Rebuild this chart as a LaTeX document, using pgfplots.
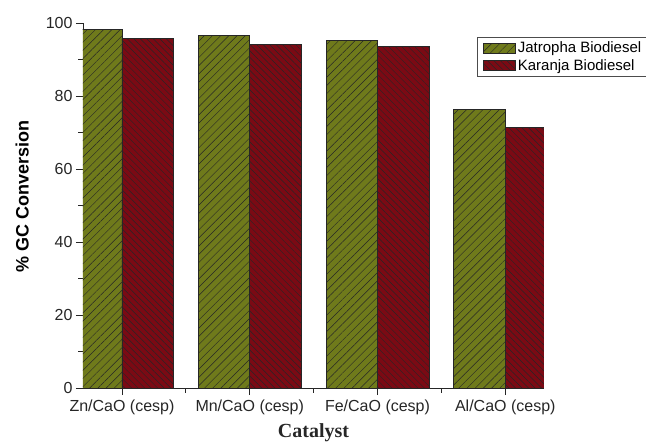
\documentclass[border=0pt]{standalone}
\usepackage{fontspec}
\setmainfont{Liberation Sans}
\newfontfamily\serifbold{Liberation Serif}
\usepackage{pgfplots}
\pgfplotsset{compat=1.18}
\usetikzlibrary{patterns.meta}

\definecolor{jatropha}{HTML}{6F7A1B}
\definecolor{karanja}{HTML}{7B0A14}
\definecolor{inkgray}{HTML}{262626}

\pgfplotstableread{
x jatropha karanja
0 98.3 95.7
1 96.6 94.1
2 95.2 93.5
3 76.3 71.3
}\conversion

\begin{document}
\begin{tikzpicture}
\useasboundingbox (-83pt,-57pt) rectangle (563pt,388pt);
\begin{axis}[
  scale only axis,
  width=461pt, height=365pt,
  at={(0pt,0pt)}, anchor=south west,
  ybar=0pt, bar width=0.403,
  xmin=-0.305, xmax=3.303,
  ymin=0, ymax=100,
  axis x line*=bottom, axis y line*=left,
  axis line style={inkgray, line width=0.8pt, -},
  xtick={0,1,2,3},
  xticklabels={Zn/CaO (cesp),Mn/CaO (cesp),Fe/CaO (cesp),Al/CaO (cesp)},
  minor xtick={0.5,1.5,2.5},
  ytick={0,20,40,60,80,100},
  minor ytick={10,30,50,70,90},
  tick align=outside,
  major tick length=7pt, minor tick length=4.5pt,
  tick style={inkgray, line width=0.8pt},
  tick label style={font=\fontsize{16}{18}\selectfont, text=inkgray},
  /pgf/number format/assume math mode=true,
  xticklabel style={yshift=-1pt},
  ylabel={\bfseries \% GC Conversion},
  ylabel style={font=\fontsize{18}{20}\selectfont, text=black,
    at={(ticklabel cs:0.526)}, yshift=10pt},
  xlabel={\serifbold\bfseries Catalyst},
  xlabel style={font=\fontsize{20}{22}\selectfont, text=inkgray, yshift=-2pt},
  legend style={
    at={(rel axis cs:0.854,0.9616)}, anchor=north west,
    font=\fontsize{15}{16}\selectfont, draw=black!70, line width=0.7pt,
    inner xsep=6pt, inner ysep=2.5pt, row sep=1pt,
    legend cell align=left,
  },
  legend image code/.code={\draw[#1] (0pt,-5pt) rectangle (32pt,5pt);},
]
\addplot[draw=inkgray, line width=0.8pt, fill=jatropha,
  postaction={pattern={Lines[angle=45,distance=5.8pt,line width=0.45pt]}, pattern color=inkgray}]
  table[x=x, y=jatropha] {\conversion};
\addplot[draw=inkgray, line width=0.8pt, fill=karanja,
  postaction={pattern={Lines[angle=-45,distance=4.6pt,line width=0.45pt]}, pattern color=inkgray}]
  table[x=x, y=karanja] {\conversion};
\legend{Jatropha Biodiesel, Karanja Biodiesel}
\end{axis}
\end{tikzpicture}
\end{document}
